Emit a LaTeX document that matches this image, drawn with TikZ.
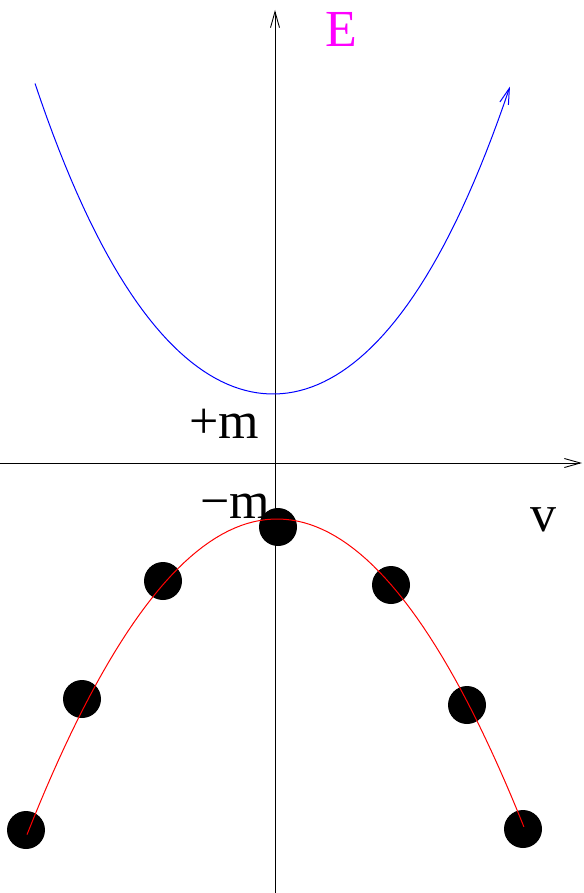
\documentclass[tikz,border=0pt]{standalone}
\usepackage{fontspec}
\setmainfont{Liberation Serif}
\usetikzlibrary{arrows.meta,calc}
\definecolor{LevelClr}{rgb}{1,0,1}
\tikzset{
  axis/.style={line width=0.9pt,color=black,-{Straight Barb[length=16pt,width=9pt]}},
  band/.style={line width=1pt,line join=round},
  dot/.style={circle,fill=black,inner sep=0pt,minimum size=38pt},
  lbl/.style={inner sep=0pt,anchor=base,font=\fontsize{52}{60}\selectfont}
}

\begin{document}
\begin{tikzpicture}[x=1pt,y=-1pt]
\useasboundingbox (0,0) rectangle (583,893);

% axes
\coordinate (Ob) at (275,893);
\coordinate (Ot) at (275,10);
\coordinate (Ol) at (0,463);
\coordinate (Or) at (582,463);
\draw[axis] (Ol) -- (Or);
\draw[axis] (Ob) -- (Ot);

\node[lbl,color=LevelClr] (E) at (341,47) {E};
\node[lbl] (v) at (543,531) {v};
\node[lbl] (pm) at (224.5,438) {+m};
\node[lbl] (mm) at (235.5,518) {−m};

% upper branch
\draw[band,blue,-{Straight Barb[length=16pt,width=9pt]}]
  plot[domain=-2.38:2.37,samples=80,variable=\u]
  ({273+100*\u},{394-46.9*\u*\u-1.4*\u*\u*\u*\u});

% filled sea
\node[dot] (d1) at (26,830) {};
\node[dot] (d2) at (82,699) {};
\node[dot] (d3) at (163,581) {};
\node[dot] (d4) at (278,527) {};
\node[dot] (d5) at (391,585) {};
\node[dot] (d6) at (467,705) {};
\node[dot] (d7) at (523,829) {};

\draw[band,red]
  plot[domain=-2.5:2.47,samples=80,variable=\u]
  ({277+100*\u},{519+50.5*\u*\u});

\end{tikzpicture}
\end{document}
